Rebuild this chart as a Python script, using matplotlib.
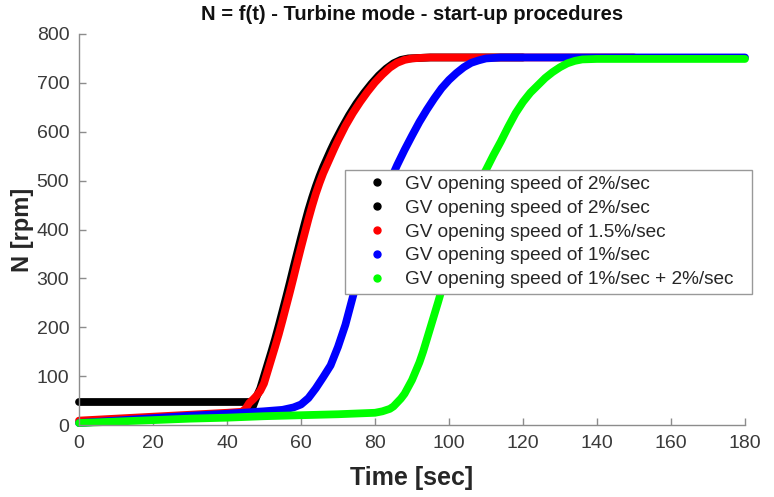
import matplotlib
matplotlib.use("Agg")
import matplotlib.pyplot as plt
from matplotlib.lines import Line2D

plt.rcParams["font.family"] = ["Liberation Sans", "DejaVu Sans"]

# --- data (time [sec], N [rpm]) ---
t_black_flat = [0, 10, 20, 30, 40, 47]
n_black_flat = [48, 48, 48, 48, 48, 48]

t_black = [46.5, 47, 48, 49, 50, 51, 52, 53, 54, 55, 56, 57, 58, 59, 60, 61, 62, 63, 64,
           65, 66, 67, 68, 69, 71, 73, 75, 77, 79, 81, 83, 85, 87, 89, 92, 95, 120]
n_black = [22, 38, 58, 75, 100, 125, 150, 176, 204, 233, 262, 292, 323, 353, 383, 412, 440,
           465, 488, 509, 528, 545, 562, 578, 607, 634, 658, 679, 698, 715, 729, 740, 747,
           750, 751, 752, 752]

t_red = [0, 10, 20, 30, 40, 44, 45, 46, 47, 48, 49, 50, 51, 52, 53, 54, 55, 56, 57, 58, 59,
         60, 61, 62, 63, 64, 65, 66, 67, 68, 69, 70, 72, 74, 76, 78, 80, 82, 84, 86, 88, 90,
         92, 95, 120, 150]
n_red = [9, 13, 17, 21, 25, 27, 33, 45, 52, 60, 70, 85, 110, 135, 160, 186, 214, 243, 272,
         302, 333, 363, 392, 421, 448, 473, 495, 515, 532, 549, 566, 582, 612, 638, 661, 682,
         701, 717, 731, 741, 747, 750, 751, 752, 752, 752]

t_blue = [0, 10, 20, 30, 40, 50, 55, 58, 60, 62, 64, 66, 68, 70, 72, 74, 76, 78, 80, 82, 84,
          86, 88, 90, 92, 94, 96, 98, 100, 102, 104, 106, 108, 110, 114, 150, 180]
n_blue = [4, 9, 14, 19, 23, 28, 31, 36, 42, 55, 75, 98, 122, 160, 205, 262, 318, 370, 418,
          460, 498, 532, 563, 592, 620, 645, 668, 689, 706, 720, 732, 741, 746, 750, 752,
          752, 752]

t_green = [0, 10, 20, 30, 40, 50, 60, 70, 80, 82, 84, 85, 86, 87, 88, 89, 90, 91, 92, 93,
           94, 95, 96, 97, 98, 99, 100, 102, 104, 106, 108, 110, 112, 114, 116, 118, 120,
           122, 124, 126, 128, 130, 132, 134, 136, 140, 160, 180]
n_green = [4, 7, 10, 13, 15, 18, 20, 22, 25, 28, 33, 38, 46, 54, 64, 78, 92, 110, 128, 150,
           175, 200, 225, 250, 276, 300, 325, 375, 422, 462, 495, 522, 552, 580, 610, 638,
           661, 680, 695, 710, 722, 732, 740, 745, 748, 749, 749, 749]

labels = ["GV opening speed of 2%/sec",
          "GV opening speed of 2%/sec",
          "GV opening speed of 1.5%/sec",
          "GV opening speed of 1%/sec",
          "GV opening speed of 1%/sec + 2%/sec"]

series = [
    (t_black_flat, n_black_flat, "#000000"),
    (t_black, n_black, "#000000"),
    (t_red, n_red, "#ff0000"),
    (t_blue, n_blue, "#0000ff"),
    (t_green, n_green, "#00ff00"),
]

fig = plt.figure(figsize=(7.74, 4.97), dpi=100)
ax = fig.add_axes([79 / 774, 1 - 425 / 497, 666 / 774, 391 / 497])

for t, n, c in series:
    ax.plot(t, n, "-", color=c, lw=5.6, solid_capstyle="round",
            solid_joinstyle="round", clip_on=False)

ax.set_xlim(0, 180)
ax.set_ylim(0, 800)
ax.set_xticks(range(0, 181, 20))
ax.set_yticks(range(0, 801, 100))

axis_gray = "#8c8c8c"
for side in ["top", "right"]:
    ax.spines[side].set_visible(False)
for side in ["left", "bottom"]:
    ax.spines[side].set_color(axis_gray)
    ax.spines[side].set_linewidth(1.0)
ax.tick_params(direction="in", length=5, width=1.0, color=axis_gray,
               labelcolor="#3a3a3a", labelsize=14, pad=7)

ax.set_xlabel("Time [sec]", fontsize=18, fontweight="bold", color="#262626", labelpad=10)
ax.set_ylabel("N [rpm]", fontsize=17, fontweight="bold", color="#262626", labelpad=2)
ax.set_title("N = f(t) - Turbine mode - start-up procedures", fontsize=14.5,
             fontweight="bold", color="#111111", pad=10)

handles = [Line2D([], [], ls="", marker="o", ms=5, color=c) for _, _, c in series]
leg = ax.legend(handles, labels, loc="upper left", mode="expand",
                bbox_to_anchor=(0.3994, 0.338, 0.611, 0.314),
                fontsize=13.7, frameon=True, fancybox=False, framealpha=1,
                edgecolor="#999999", labelspacing=0.34, handlelength=2.8,
                handletextpad=0.05, borderpad=0.3, borderaxespad=0)
leg.get_frame().set_linewidth(1.0)
for txt in leg.get_texts():
    txt.set_color("#262626")

fig.savefig("out.png", dpi=100)
